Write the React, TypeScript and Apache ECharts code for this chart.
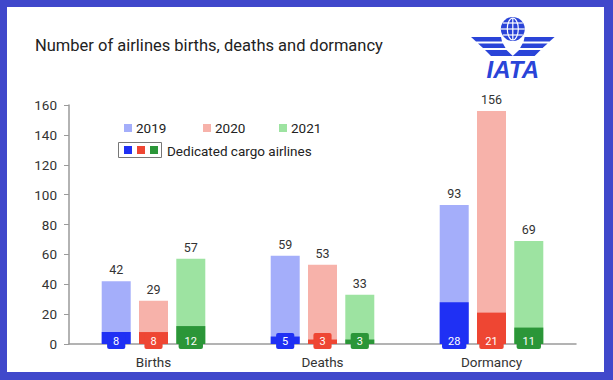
import React, { useEffect, useRef } from "react";
import * as echarts from "echarts";

const categories = ["Births", "Deaths", "Dormancy"];
const years = ["2019", "2020", "2021"];
const totals2019 = [42, 59, 93];
const totals2020 = [29, 53, 156];
const totals2021 = [57, 33, 69];
const cargo2019 = [8, 5, 28];
const cargo2020 = [8, 3, 21];
const cargo2021 = [12, 3, 11];
const yTicks = [0, 20, 40, 60, 80, 100, 120, 140, 160];
const title = "Number of airlines births, deaths and dormancy";
const cargoLegend = "Dedicated cargo airlines";

const lightColors = ["#a4aefa", "#f7b2aa", "#9de3a1"];
const darkColors = ["#1f30f4", "#ee4633", "#2b9638"];
const FONT = "Roboto, 'Liberation Sans', sans-serif";
const LOGO = "#2a44d8";

export default function App() {
  const ref = useRef<HTMLDivElement>(null);
  useEffect(() => {
    document.body.style.margin = "0";
    const chart = echarts.init(ref.current!, null, { renderer: "svg" });
    const totals = [totals2019, totals2020, totals2021];
    const cargo = [cargo2019, cargo2020, cargo2021];
    const common = { barWidth: 29, barGap: "28.6%" };
    const totalSeries = years.map((y, i) => ({
      type: "bar",
      name: y,
      xAxisIndex: 0,
      data: totals[i],
      itemStyle: { color: lightColors[i] },
      z: 2,
      ...common,
      label: {
        show: true,
        position: "top",
        distance: 5,
        color: "#333",
        fontSize: 12.5,
        fontFamily: FONT,
      },
    }));
    const cargoSeries = years.map((y, i) => ({
      type: "bar",
      name: "cargo " + y,
      xAxisIndex: 1,
      data: cargo[i],
      itemStyle: { color: darkColors[i] },
      z: 3,
      ...common,
      label: {
        show: true,
        position: ["50%", "100%"],
        align: "center",
        verticalAlign: "middle",
        offset: [0, -3],
        color: "#fff",
        fontSize: 11,
        fontFamily: FONT,
        backgroundColor: darkColors[i],
        padding: [3, 6, 2, 6],
        borderRadius: 2,
      },
    }));

    const legendGraphics: any[] = [];
    const legendX = [124, 203, 279];
    years.forEach((y, i) => {
      legendGraphics.push({
        type: "rect",
        shape: { x: legendX[i], y: 124, width: 8, height: 8 },
        style: { fill: lightColors[i] },
      });
      legendGraphics.push({
        type: "text",
        x: legendX[i] + 12,
        y: 128,
        style: { text: y, fill: "#222", font: `13.5px ${FONT}`, verticalAlign: "middle" },
      });
    });
    legendGraphics.push({
      type: "rect",
      shape: { x: 118.5, y: 142.5, width: 43, height: 15 },
      style: { fill: "#fff", stroke: "#777", lineWidth: 1 },
    });
    [124, 137, 150].forEach((x, i) => {
      legendGraphics.push({
        type: "rect",
        shape: { x, y: 146, width: 8, height: 8 },
        style: { fill: darkColors[i] },
      });
    });
    legendGraphics.push({
      type: "text",
      x: 167,
      y: 150.5,
      style: { text: cargoLegend, fill: "#222", font: `13.5px ${FONT}`, verticalAlign: "middle" },
    });

    const cx = 512.8;
    const wing = (pts: number[][], mirror: boolean) =>
      pts.map(([x, y]) => [mirror ? 2 * cx - x : x, y]);
    const leftWing = [
      [[471, 37], [501, 37], [502, 41.5], [476, 41.5]],
      [[478, 43.5], [503, 43.5], [505.5, 48], [483, 48]],
      [[485, 50], [506.5, 50], [512.8, 56], [491, 56]],
    ];
    const logo: any[] = [
      {
        type: "circle",
        shape: { cx, cy: 29, r: 12 },
        style: { fill: LOGO },
      },
      {
        type: "ellipse",
        shape: { cx, cy: 29, rx: 5.5, ry: 11 },
        style: { fill: "none", stroke: "#fff", lineWidth: 1.2 },
      },
      {
        type: "line",
        shape: { x1: cx, y1: 18, x2: cx, y2: 40 },
        style: { stroke: "#fff", lineWidth: 1.2 },
      },
      {
        type: "line",
        shape: { x1: cx - 12, y1: 29, x2: cx + 12, y2: 29 },
        style: { stroke: "#fff", lineWidth: 1.2 },
      },
      {
        type: "line",
        shape: { x1: cx - 10, y1: 23, x2: cx + 10, y2: 23 },
        style: { stroke: "#fff", lineWidth: 1.2 },
      },
      {
        type: "line",
        shape: { x1: cx - 10, y1: 35, x2: cx + 10, y2: 35 },
        style: { stroke: "#fff", lineWidth: 1.2 },
      },
      ...leftWing.map((p) => ({ type: "polygon", shape: { points: p }, style: { fill: LOGO } })),
      ...leftWing.map((p) => ({ type: "polygon", shape: { points: wing(p, true) }, style: { fill: LOGO } })),
      {
        type: "text",
        x: cx,
        y: 69,
        style: {
          text: "IATA",
          fill: LOGO,
          font: `italic bold 24px 'Liberation Sans', Arial, sans-serif`,
          align: "center",
          verticalAlign: "middle",
        },
      },
    ];

    chart.setOption({
      animation: false,
      backgroundColor: "transparent",
      grid: { left: 69, right: 37, top: 105, bottom: 36 },
      xAxis: [
        {
          type: "category",
          data: categories,
          axisLine: { lineStyle: { color: "#9a9a9a", width: 1.5 } },
          axisTick: { show: false },
          axisLabel: { color: "#333", fontSize: 13.5, fontFamily: FONT, margin: 11 },
        },
        {
          type: "category",
          data: categories,
          show: false,
          position: "bottom",
        },
      ],
      yAxis: {
        type: "value",
        min: yTicks[0],
        max: yTicks[yTicks.length - 1],
        interval: 20,
        splitLine: { show: false },
        axisLine: { show: true, lineStyle: { color: "#9a9a9a", width: 1.5 } },
        axisTick: { show: true, length: 5, lineStyle: { color: "#9a9a9a" } },
        axisLabel: { color: "#333", fontSize: 13.5, fontFamily: FONT, margin: 12 },
      },
      graphic: [
        {
          type: "text",
          x: 35,
          y: 45,
          style: { text: title, fill: "#222", font: `16.5px ${FONT}`, verticalAlign: "middle" },
        },
        ...legendGraphics,
        ...logo,
      ],
      series: [...totalSeries, ...cargoSeries],
    });
    return () => chart.dispose();
  }, []);
  return (
    <div style={{ width: 613, height: 380, background: "#4048cb", position: "relative" }}>
      <div
        style={{ position: "absolute", left: 7, top: 7, width: 597, height: 365, background: "#fff" }}
      />
      <div ref={ref} style={{ position: "absolute", left: 0, top: 0, width: 613, height: 380 }} />
    </div>
  );
}
